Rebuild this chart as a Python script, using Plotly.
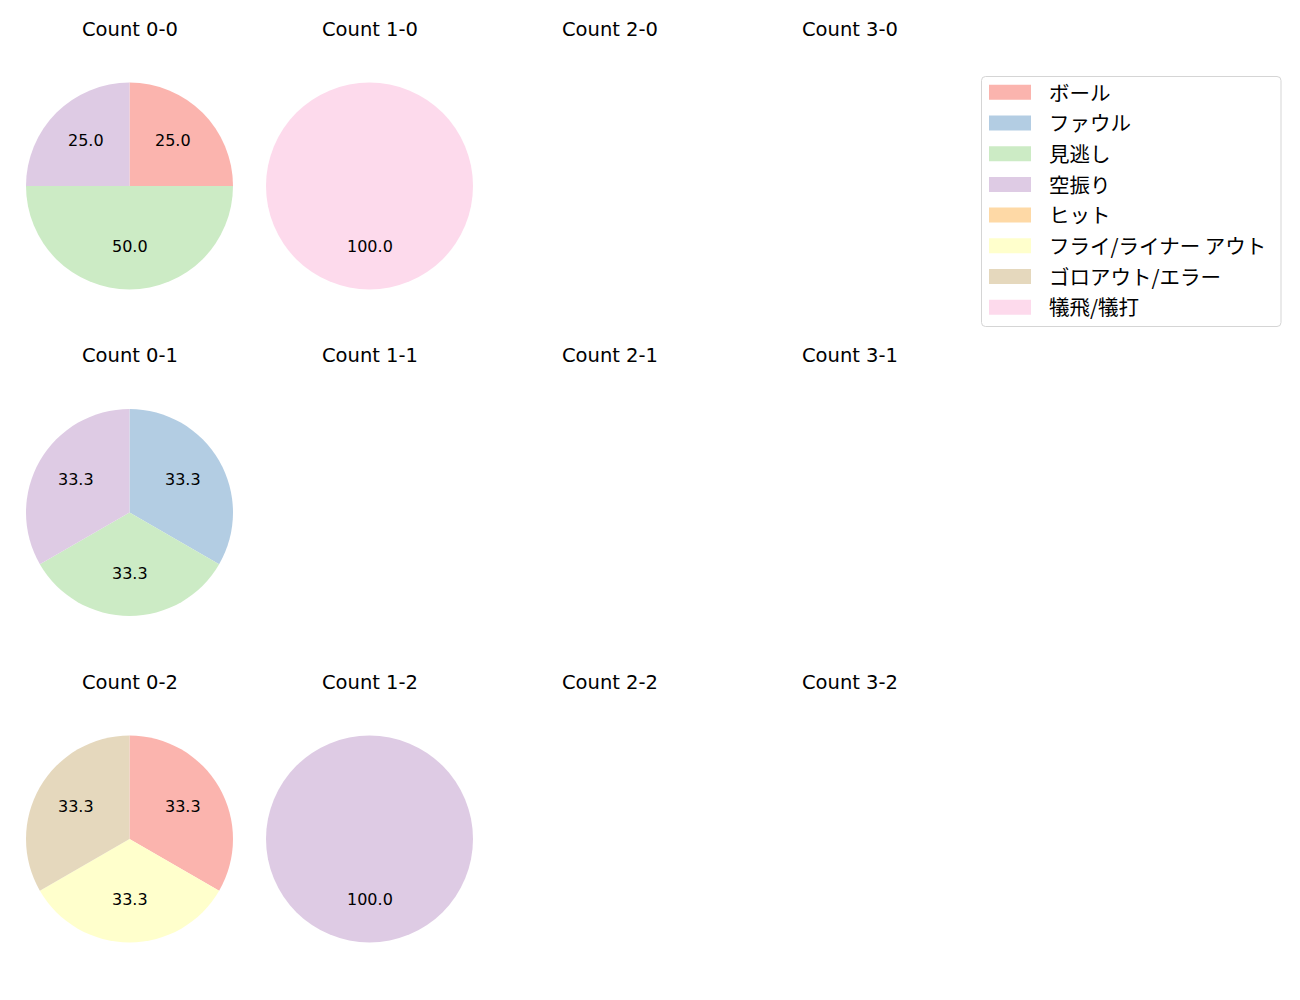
import plotly.graph_objects as go
import math

# ---- data ----
categories = ["ボール", "ファウル", "見逃し", "空振り", "ヒット",
              "フライ/ライナー アウト", "ゴロアウト/エラー", "犠飛/犠打"]
colors = ["#fbb4ae", "#b3cde3", "#ccebc5", "#decbe4", "#fed9a6",
          "#ffffcc", "#e5d8bd", "#fddaec"]

balls = [0, 1, 2, 3]
strikes = [0, 1, 2]

count_0_0 = [1, 0, 2, 1, 0, 0, 0, 0]
count_1_0 = [0, 0, 0, 0, 0, 0, 0, 1]
count_2_0 = [0, 0, 0, 0, 0, 0, 0, 0]
count_3_0 = [0, 0, 0, 0, 0, 0, 0, 0]
count_0_1 = [0, 1, 1, 1, 0, 0, 0, 0]
count_1_1 = [0, 0, 0, 0, 0, 0, 0, 0]
count_2_1 = [0, 0, 0, 0, 0, 0, 0, 0]
count_3_1 = [0, 0, 0, 0, 0, 0, 0, 0]
count_0_2 = [1, 0, 0, 0, 0, 1, 1, 0]
count_1_2 = [0, 0, 0, 1, 0, 0, 0, 0]
count_2_2 = [0, 0, 0, 0, 0, 0, 0, 0]
count_3_2 = [0, 0, 0, 0, 0, 0, 0, 0]

values = {
    (0, 0): count_0_0, (1, 0): count_1_0, (2, 0): count_2_0, (3, 0): count_3_0,
    (0, 1): count_0_1, (1, 1): count_1_1, (2, 1): count_2_1, (3, 1): count_3_1,
    (0, 2): count_0_2, (1, 2): count_1_2, (2, 2): count_2_2, (3, 2): count_3_2,
}

# ---- layout geometry (pixels) ----
W, H = 1300, 1000
col_cx = [129.5, 369.5, 609.5, 849.5]
row_cy = [186, 512.5, 839]
R = 103.5
LATIN = "DejaVu Sans, Noto Sans CJK JP, sans-serif"
CJK = "Noto Sans CJK JP, DejaVu Sans, sans-serif"


def px(x):
    return x / W


def py(y):
    return 1 - y / H


fig = go.Figure()
annotations = []

for s in strikes:
    for b in balls:
        cx, cy = col_cx[b], row_cy[s]
        vals = values[(b, s)]
        total = sum(vals)
        annotations.append(dict(
            x=px(cx), y=py(cy - 157), xref="paper", yref="paper",
            text=f"Count {b}-{s}", showarrow=False,
            font=dict(size=19.5, color="black", family=LATIN),
            xanchor="center", yanchor="middle"))
        if total == 0:
            continue
        fig.add_trace(go.Pie(
            labels=categories, values=vals,
            marker=dict(colors=colors, line=dict(width=0)),
            sort=False, direction="clockwise", rotation=0,
            textinfo="none", showlegend=False,
            domain=dict(x=[px(cx - R), px(cx + R)], y=[py(cy + R), py(cy - R)]),
        ))
        cum = 0.0
        for v in vals:
            if v == 0:
                continue
            mid = (cum + v / 2) / total * 2 * math.pi
            cum += v
            tx = cx + 0.6 * R * math.sin(mid)
            ty = cy - 0.6 * R * math.cos(mid)
            annotations.append(dict(
                x=px(tx), y=py(ty - 1.5), xref="paper", yref="paper",
                text=f"{v / total * 100:.1f}", showarrow=False,
                font=dict(size=16, color="black", family=LATIN),
                xanchor="center", yanchor="middle"))

# ---- legend (drawn) ----
shapes = []
L, Rr, T, B, rad = 981.5, 1281, 76.5, 326.5, 4
path = (f"M {px(L + rad)},{py(T)} L {px(Rr - rad)},{py(T)} "
        f"Q {px(Rr)},{py(T)} {px(Rr)},{py(T + rad)} "
        f"L {px(Rr)},{py(B - rad)} Q {px(Rr)},{py(B)} {px(Rr - rad)},{py(B)} "
        f"L {px(L + rad)},{py(B)} Q {px(L)},{py(B)} {px(L)},{py(B - rad)} "
        f"L {px(L)},{py(T + rad)} Q {px(L)},{py(T)} {px(L + rad)},{py(T)} Z")
shapes.append(dict(type="path", path=path, xref="paper", yref="paper",
                   line=dict(color="#d5d5d5", width=1), fillcolor="rgba(255,255,255,0.8)"))
y0 = 92.3
dy = 30.7
for i, (lab, col) in enumerate(zip(categories, colors)):
    yc = y0 + i * dy
    shapes.append(dict(type="rect", xref="paper", yref="paper",
                       x0=px(989), x1=px(1031), y0=py(yc - 7.5), y1=py(yc + 7.5),
                       line=dict(width=0), fillcolor=col))
    annotations.append(dict(
        x=px(1047), y=py(yc - 0.8), xref="paper", yref="paper", text=lab,
        showarrow=False, xanchor="left", yanchor="middle",
        font=dict(size=20.5, color="black", family=CJK)))

fig.update_layout(
    width=W, height=H, margin=dict(l=0, r=0, t=0, b=0),
    paper_bgcolor="white", plot_bgcolor="white",
    annotations=annotations, shapes=shapes, showlegend=False,
)

fig.write_html("out.html")
